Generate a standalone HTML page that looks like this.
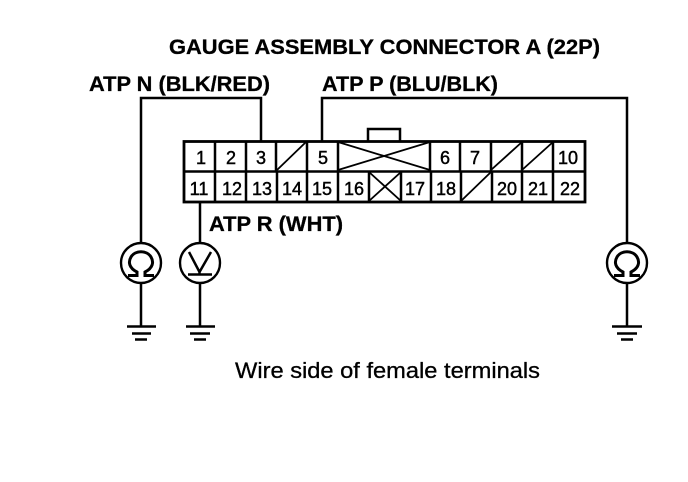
<!DOCTYPE html>
<html>
<head>
<meta charset="utf-8">
<style>
html,body{margin:0;padding:0;background:#fff}
svg{display:block}
text{font-family:"Liberation Sans",sans-serif;fill:#000}
.h{font-size:21.5px;font-weight:bold;stroke:#000;stroke-width:.3}
.n{font-size:18px;text-anchor:middle;stroke:#000;stroke-width:.45}
.c{fill:#fff;stroke:#000;stroke-width:2.400}
.w{stroke:#000;stroke-width:2.500;fill:none}
.t{stroke:#000;stroke-width:1.800;fill:none}
.m{stroke:#000;stroke-width:3;fill:none}
</style>
</head>
<body>
<svg width="688" height="482" viewBox="0 0 688 482" xmlns="http://www.w3.org/2000/svg">
<text class="h" x="169" y="54" textLength="431" lengthAdjust="spacingAndGlyphs">GAUGE ASSEMBLY CONNECTOR A (22P)</text>
<text class="h" x="89" y="91" textLength="181" lengthAdjust="spacingAndGlyphs">ATP N (BLK/RED)</text>
<text class="h" x="322" y="91" textLength="176" lengthAdjust="spacingAndGlyphs">ATP P (BLU/BLK)</text>
<text class="h" x="209" y="231" textLength="134" lengthAdjust="spacingAndGlyphs">ATP R (WHT)</text>
<text x="235" y="378" font-size="22" stroke="#000" stroke-width=".3" textLength="305" lengthAdjust="spacingAndGlyphs">Wire side of female terminals</text>

<!-- wires -->
<path class="w" d="M141 243V98H261V141"/>
<path class="w" d="M322 141V98H627V243"/>
<path class="w" d="M200 202V243"/>

<!-- connector -->
<path class="w" d="M368 141V129H400V141"/>
<rect x="184" y="141.500" width="401" height="60.500" fill="#fff" stroke="#000" stroke-width="2.800"/>
<path class="w" d="M184 171.500H585"/>
<path class="w" d="M215 141V171M246 141V171M276 141V171M307 141V171M338 141V171M430 141V171M460 141V171M491 141V171M522 141V171M553 141V171"/>
<path class="w" d="M215 171V202M246 171V202M277 171V202M307 171V202M338 171V202M369 171V202M401 171V202M431 171V202M461 171V202M492 171V202M522 171V202M553 171V202"/>
<path class="t" d="M277 170L306 142M338 142L430 170M338 170L430 142M369 172L401 201M401 172L369 201M461 201L491 172M491 170L522 142M522 170L553 142"/>

<!-- top row numbers -->
<text class="n" x="201" y="164">1</text>
<text class="n" x="231" y="164">2</text>
<text class="n" x="261" y="164">3</text>
<text class="n" x="323" y="164">5</text>
<text class="n" x="445" y="164">6</text>
<text class="n" x="475" y="164">7</text>
<text class="n" x="568" y="164">10</text>
<!-- bottom row numbers -->
<text class="n" x="199" y="195">11</text>
<text class="n" x="232" y="195">12</text>
<text class="n" x="262" y="195">13</text>
<text class="n" x="292" y="195">14</text>
<text class="n" x="322" y="195">15</text>
<text class="n" x="354" y="195">16</text>
<text class="n" x="415" y="195">17</text>
<text class="n" x="446" y="195">18</text>
<text class="n" x="507" y="195">20</text>
<text class="n" x="538" y="195">21</text>
<text class="n" x="570" y="195">22</text>

<!-- meters -->
<circle class="c" cx="141" cy="263" r="20"/>
<circle class="c" cx="200" cy="263" r="20"/>
<circle class="c" cx="627" cy="263" r="20"/>
<path class="m" d="M128 275.500H137V272C129 268 128 262 131 257C135 250 147 250 151 257C154 262 153 268 145 272V275.500H154"/>
<path class="m" d="M614 275.500H623V272C615 268 614 262 617 257C621 250 633 250 637 257C640 262 639 268 631 272V275.500H640"/>
<path class="w" d="M189 252L199.500 272L211 252M199.500 272V274M188 274.500H212"/>

<!-- grounds -->
<path class="w" d="M141 283V326M200 283V326M627 283V326"/>
<path class="w" d="M127 326.500H156M132 333.500H151M135 339.500H147"/>
<path class="w" d="M186 326.500H215M190 333.500H210M194 339.500H206"/>
<path class="w" d="M612 326.500H642M617 333.500H637M621 339.500H633"/>
</svg>
</body>
</html>
